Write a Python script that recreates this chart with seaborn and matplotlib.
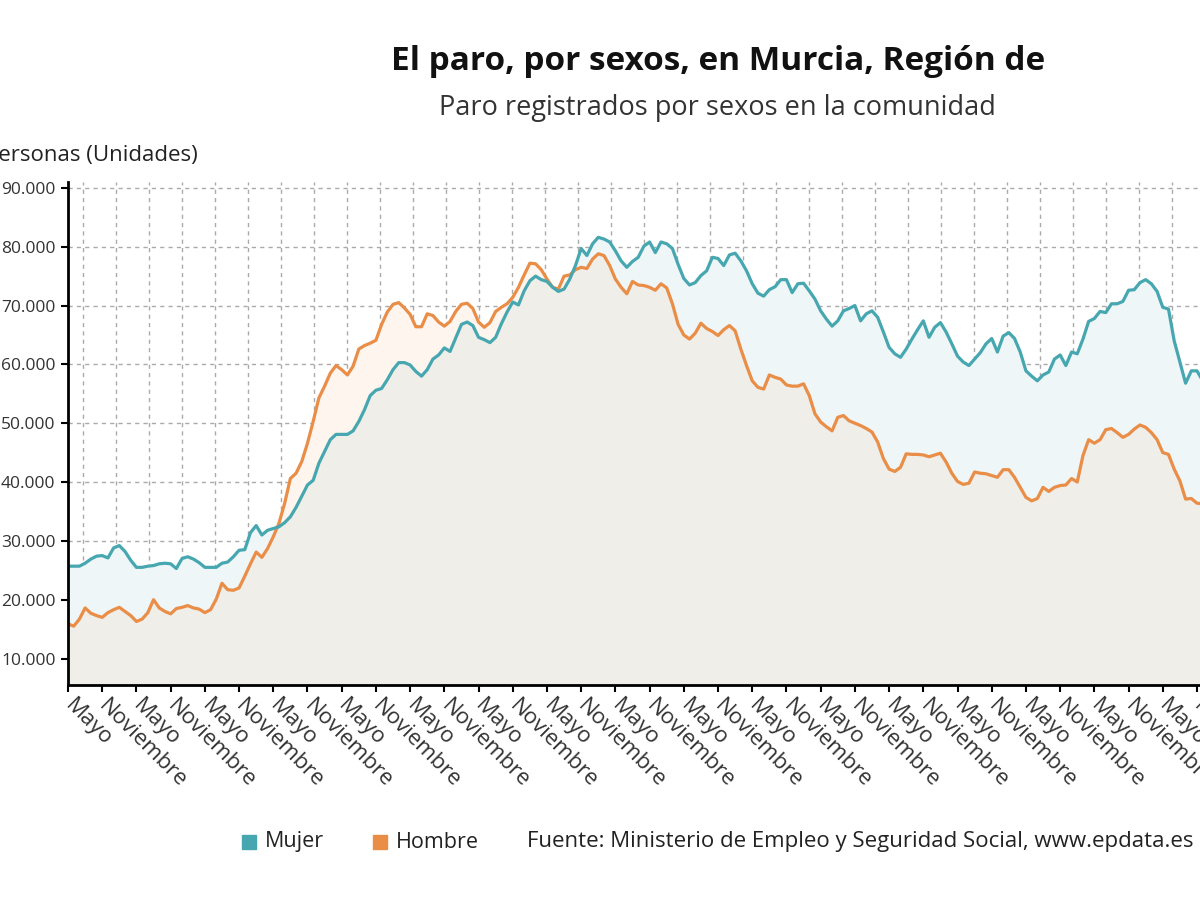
import numpy as np
import pandas as pd
import matplotlib
matplotlib.use("Agg")
import matplotlib.pyplot as plt
from matplotlib.patches import Rectangle
from matplotlib.ticker import FuncFormatter
import seaborn as sns

# Paro registrado mensual (miles de personas), desde mayo de 2005
mujer = [
    25.7, 25.7, 25.7, 26.2, 26.9, 27.4, 27.5, 27.1, 28.8, 29.2,
    28.2, 26.7, 25.5, 25.5, 25.7, 25.8, 26.1, 26.2, 26.1, 25.3,
    27.0, 27.3, 26.9, 26.3, 25.5, 25.5, 25.5, 26.2, 26.4, 27.3,
    28.4, 28.5, 31.4, 32.6, 31.0, 31.8, 32.1, 32.4, 33.1, 34.1,
    35.7, 37.6, 39.5, 40.3, 43.2, 45.2, 47.2, 48.1, 48.1, 48.1,
    48.7, 50.3, 52.3, 54.7, 55.6, 55.9, 57.4, 59.1, 60.3, 60.3,
    59.9, 58.8, 58.0, 59.1, 60.9, 61.6, 62.8, 62.2, 64.5, 66.8,
    67.2, 66.6, 64.6, 64.2, 63.7, 64.6, 66.9, 68.9, 70.6, 70.1,
    72.5, 74.2, 75.0, 74.4, 74.1, 73.1, 72.4, 72.8, 74.5, 76.8,
    79.7, 78.5, 80.5, 81.6, 81.3, 80.8, 79.3, 77.6, 76.5, 77.5,
    78.2, 80.1, 80.8, 79.0, 80.8, 80.5, 79.7, 77.0, 74.6, 73.5,
    73.9, 75.1, 75.9, 78.2, 78.0, 76.8, 78.6, 78.9, 77.6, 75.9,
    73.7, 72.1, 71.6, 72.7, 73.2, 74.4, 74.4, 72.2, 73.7, 73.8,
    72.5, 71.1, 69.1, 67.7, 66.5, 67.4, 69.1, 69.5, 70.0, 67.4,
    68.6, 69.1, 68.0, 65.5, 62.9, 61.8, 61.2, 62.6, 64.3, 65.9,
    67.4, 64.6, 66.3, 67.1, 65.5, 63.5, 61.4, 60.4, 59.8, 60.9,
    62.0, 63.5, 64.4, 62.1, 64.8, 65.4, 64.4, 62.1, 58.9, 58.0,
    57.2, 58.2, 58.7, 60.9, 61.6, 59.8, 62.1, 61.8, 64.3, 67.3,
    67.8, 69.0, 68.8, 70.3, 70.3, 70.7, 72.6, 72.7, 73.9, 74.4,
    73.7, 72.4, 69.7, 69.4, 64.0, 60.4, 56.8, 58.9, 58.9, 57.2,
]
hombre = [
    15.9, 15.5, 16.7, 18.6, 17.7, 17.3, 17.0, 17.8, 18.3, 18.7,
    18.0, 17.3, 16.3, 16.7, 17.8, 20.0, 18.6, 18.0, 17.6, 18.5,
    18.7, 19.0, 18.6, 18.4, 17.8, 18.3, 20.1, 22.8, 21.7, 21.6,
    22.0, 24.0, 26.1, 28.1, 27.2, 28.7, 30.7, 33.0, 36.4, 40.6,
    41.5, 43.5, 46.6, 50.3, 54.3, 56.3, 58.5, 59.8, 59.1, 58.2,
    59.7, 62.6, 63.2, 63.6, 64.1, 66.8, 68.9, 70.2, 70.5, 69.6,
    68.5, 66.4, 66.4, 68.6, 68.3, 67.2, 66.5, 67.3, 69.0, 70.2,
    70.4, 69.5, 67.2, 66.3, 67.1, 69.0, 69.7, 70.3, 71.4, 73.1,
    75.2, 77.2, 77.1, 76.1, 74.5, 73.1, 72.8, 75.0, 75.2, 76.1,
    76.5, 76.3, 77.9, 78.8, 78.5, 76.8, 74.5, 73.1, 72.0, 74.1,
    73.5, 73.4, 73.1, 72.6, 73.7, 73.0, 70.3, 66.8, 65.0, 64.3,
    65.3, 67.0, 66.1, 65.6, 64.9, 65.9, 66.6, 65.7, 62.6, 59.8,
    57.2, 56.1, 55.8, 58.2, 57.8, 57.5, 56.5, 56.3, 56.3, 56.7,
    54.7, 51.6, 50.2, 49.4, 48.7, 51.0, 51.3, 50.4, 50.0, 49.6,
    49.1, 48.5, 46.8, 44.0, 42.2, 41.8, 42.5, 44.8, 44.7, 44.7,
    44.6, 44.3, 44.6, 44.9, 43.4, 41.5, 40.1, 39.6, 39.8, 41.7,
    41.5, 41.4, 41.1, 40.8, 42.1, 42.1, 40.8, 39.1, 37.4, 36.8,
    37.2, 39.1, 38.4, 39.1, 39.4, 39.5, 40.6, 40.0, 44.5, 47.2,
    46.6, 47.2, 48.9, 49.1, 48.4, 47.6, 48.1, 49.0, 49.7, 49.3,
    48.4, 47.2, 45.0, 44.7, 42.2, 40.2, 37.1, 37.2, 36.4, 36.3,
]
nombres_mes = ["Mayo", "Noviembre"]

color_mujer = "#47a7b0"
color_hombre = "#e98d47"
relleno_ambos = "#efeee9"
relleno_mujer = "#eef6f8"
relleno_hombre = "#fdf5ee"

meses = np.arange(len(mujer))
v_mujer = np.array(mujer) * 1000
v_hombre = np.array(hombre) * 1000
datos = pd.DataFrame({
    "mes": np.concatenate([meses, meses]),
    "parados": np.concatenate([v_hombre, v_mujer]),
    "sexo": ["Hombre"] * len(hombre) + ["Mujer"] * len(mujer),
})

sns.set_theme(style="white")
plt.rcParams["font.family"] = ["Open Sans", "DejaVu Sans"]

fig = plt.figure(figsize=(12, 9), dpi=100)
# el eje sigue por la derecha, fuera de la imagen (recortado como el original)
ax = fig.add_axes([68 / 1200, 215 / 900, 1170 / 1200, 503 / 900])

# areas: comun (gris), mujer por encima (azul claro), hombre por encima (melocoton)
ax.fill_between(meses, np.minimum(v_mujer, v_hombre), 0, color=relleno_ambos, lw=0)
ax.fill_between(meses, v_hombre, v_mujer, where=v_mujer >= v_hombre,
                interpolate=True, color=relleno_mujer, lw=0)
ax.fill_between(meses, v_mujer, v_hombre, where=v_hombre >= v_mujer,
                interpolate=True, color=relleno_hombre, lw=0)
sns.lineplot(data=datos, x="mes", y="parados", hue="sexo",
             palette={"Mujer": color_mujer, "Hombre": color_hombre},
             linewidth=2.3, legend=False, ax=ax)

ax.set_xlim(0, 1170 / 5.702)
ax.set_ylim(5500, 91000)
ax.set_xlabel("")
ax.set_ylabel("")

ticks_x = np.arange(0, len(mujer), 6)
ax.set_xticks(ticks_x)
ax.set_xticklabels([nombres_mes[i % 2] for i in range(len(ticks_x))],
                   rotation=-45, ha="left", va="center",
                   rotation_mode="anchor", fontsize=16, color="#333333")
ax.set_xticks(np.arange(2.63, 205, 5.787), minor=True)
ax.set_yticks(np.arange(10000, 90001, 10000))
ax.yaxis.set_major_formatter(FuncFormatter(lambda v, p: f"{int(v):,}".replace(",", ".")))
ax.tick_params(axis="y", labelsize=12.5, labelcolor="#333333")

ax.tick_params(which="major", bottom=True, left=True, length=5, width=1.5,
               color="black", pad=4)
ax.tick_params(axis="x", pad=8)
ax.tick_params(which="minor", length=0)

ax.grid(axis="y", which="major", color="#aaaaaa", linestyle=(0, (3, 3)), linewidth=1)
ax.grid(axis="x", which="minor", color="#aaaaaa", linestyle=(0, (3, 3)), linewidth=1)
ax.grid(axis="x", which="major", visible=False)

for lado in ["top", "right"]:
    ax.spines[lado].set_visible(False)
for lado in ["left", "bottom"]:
    ax.spines[lado].set_color("black")
    ax.spines[lado].set_linewidth(2)

fig.text(718 / 1200, 1 - 61 / 900, "El paro, por sexos, en Murcia, Región de",
         ha="center", va="center", fontsize=24, fontweight="bold", color="#111111")
fig.text(717 / 1200, 1 - 108 / 900, "Paro registrados por sexos en la comunidad",
         ha="center", va="center", fontsize=19.5, color="#333333")
fig.text(198 / 1200, 1 - 156 / 900, "Personas (Unidades)",
         ha="right", va="center", fontsize=16, color="#222222")

# leyenda al pie
y_ley = 1 - 842 / 900
for x0, color, texto in [(242, color_mujer, "Mujer"), (373, color_hombre, "Hombre")]:
    fig.patches.append(Rectangle((x0 / 1200, y_ley - 7 / 900), 14 / 1200, 14 / 900,
                                 transform=fig.transFigure, color=color))
    fig.text((x0 + 23) / 1200, y_ley, texto, ha="left", va="center",
             fontsize=15.5, color="#222222")
fig.text(527 / 1200, y_ley,
         "Fuente: Ministerio de Empleo y Seguridad Social, www.epdata.es",
         ha="left", va="center", fontsize=16, color="#222222")

fig.savefig("out.png", dpi=100)
